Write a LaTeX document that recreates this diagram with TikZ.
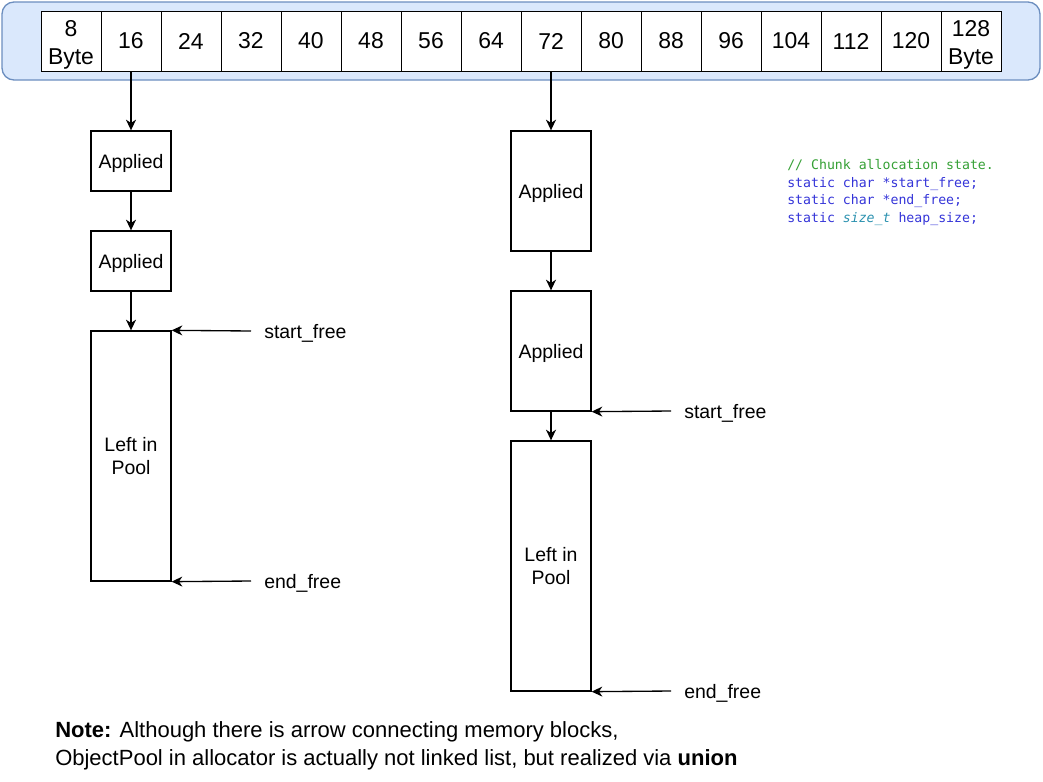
\documentclass[tikz,border=0pt]{standalone}
\usepackage{fontspec}
\setmainfont{Liberation Sans}
\newfontfamily\codefont{DejaVu Sans Mono}
\usetikzlibrary{arrows.meta}
\definecolor{barfill}{HTML}{DAE8FC}
\definecolor{barline}{HTML}{6C8EBF}
\definecolor{cmtgreen}{HTML}{35A035}
\definecolor{kwblue}{HTML}{3434D8}
\definecolor{typeteal}{HTML}{2B91AF}

\begin{document}
\begin{tikzpicture}[
    x=0.75pt, y=-0.75pt,
    font=\fontsize{14.6}{17.5}\selectfont,
    bar/.style={draw=barline, fill=barfill, line width=1pt, rounded corners=9pt},
    cell/.style={draw, fill=white, line width=0.75pt, minimum width=45pt, minimum height=45pt,
      inner sep=0pt, align=center, font=\fontsize{17.2}{20.5}\selectfont},
    blk/.style={draw, line width=1pt, minimum width=60pt, inner sep=0pt, align=center},
    ptr/.style={anchor=west, inner xsep=9.75pt, inner ysep=2pt, text depth=0pt},
    arr/.style={-{Stealth[length=8pt, width=7.5pt, inset=2.5pt]}, line width=1pt}
  ]
    \useasboundingbox (0,0) rectangle (1043,782);

    % size classes
    \node[bar, minimum width=778.5pt, minimum height=58.5pt] (bar) at (521,41) {};
    \foreach \lbl [count=\i] in {{\rule{0pt}{18pt}8\\Byte},16,24,32,40,48,56,64,72,80,88,96,104,112,120,{\rule{0pt}{18pt}128\\Byte}}
      \node[cell] (c\i) at (11+60*\i, 41) {\lbl};

    % 16 byte chunk
    \node[blk, minimum height=45pt, text depth=0pt] (apL1) at (131,161) {Applied};
    \node[blk, minimum height=45pt, text depth=0pt] (apL2) at (131,261) {Applied};
    \node[blk, minimum height=187.5pt] (poolL) at (131,456) {Left in\\Pool};
    \node[ptr] (sfL) at (251,331) {start\_free};
    \node[ptr] (efL) at (251,581) {end\_free};

    % 72 byte chunk
    \node[blk, minimum height=90pt, text depth=0pt] (apR1) at (551,191) {Applied};
    \node[blk, minimum height=90pt, text depth=0pt] (apR2) at (551,351) {Applied};
    \node[blk, minimum height=187.5pt] (poolR) at (551,566) {Left in\\Pool};
    \node[ptr] (sfR) at (671,411) {start\_free};
    \node[ptr] (efR) at (671,691) {end\_free};

    \draw[arr] (c2.south) -- (apL1.north);
    \draw[arr] (apL1) -- (apL2);
    \draw[arr] (apL2) -- (poolL);
    \draw[arr] (sfL.west) -- (poolL.north east);
    \draw[arr] (efL.west) -- (poolL.south east);

    \draw[arr] (c9.south) -- (apR1.north);
    \draw[arr] (apR1) -- (apR2);
    \draw[arr] (apR2) -- (poolR);
    \draw[arr] (sfR.west) -- (apR2.south east);
    \draw[arr] (efR.west) -- (poolR.south east);

    \node[anchor=north west, inner sep=0pt, align=left,
      font=\codefont\fontsize{9.9}{13.3}\selectfont] (code) at (787,159)
      {\textcolor{cmtgreen}{// Chunk allocation state.}\\
       \textcolor{kwblue}{static char *start\_free;}\\
       \textcolor{kwblue}{static char *end\_free;}\\
       \textcolor{kwblue}{static \textcolor{typeteal}{\itshape size\_t} heap\_size;}};

    \node[anchor=north west, inner sep=0pt, align=left,
      font=\fontsize{16.5}{21}\selectfont] (note) at (55,721)
      {\textbf{Note:} Although there is arrow connecting memory blocks,\\
       ObjectPool in allocator is actually not linked list, but realized via \textbf{union}};
  \end{tikzpicture}
\end{document}
